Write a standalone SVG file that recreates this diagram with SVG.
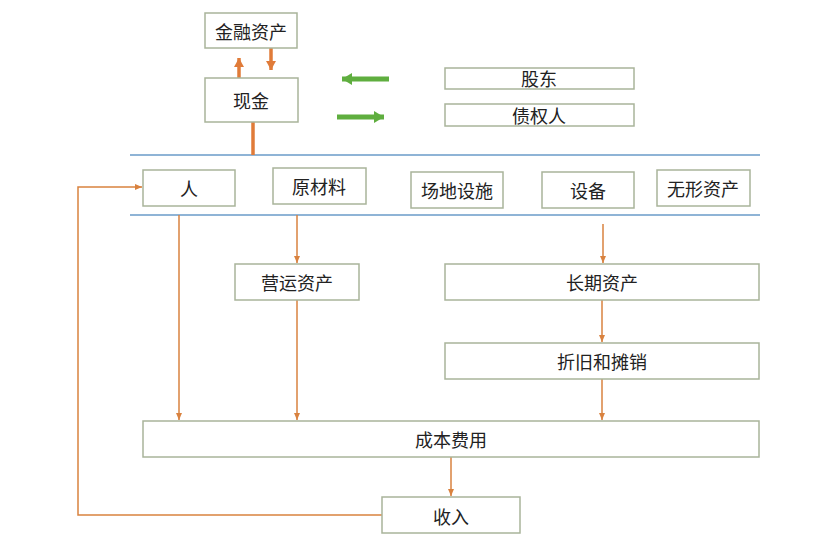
<svg xmlns="http://www.w3.org/2000/svg" width="830" height="554" viewBox="0 0 830 554">
<style>
.box{fill:#fff;stroke:#a9b49a;stroke-width:1.5}
.t{font-family:"Noto Sans CJK SC","Liberation Sans",sans-serif;font-size:18px;fill:#222;text-anchor:middle;dominant-baseline:central}
.c{fill:none;stroke:#d9823f;stroke-width:1.5}
.thick{fill:none;stroke:#e07b39;stroke-width:3.5}
.g{fill:none;stroke:#5fae3f;stroke-width:5}
.blue{stroke:#6a9bc8;stroke-width:1.5}
</style>
<defs>
<marker id="a" markerWidth="8" markerHeight="8" refX="7" refY="4" orient="auto" markerUnits="userSpaceOnUse"><path d="M0,1 L7,4 L0,7 Z" fill="#d9823f"/></marker>
<marker id="at" markerWidth="12" markerHeight="12" refX="9" refY="6" orient="auto" markerUnits="userSpaceOnUse"><path d="M0,1 L9,6 L0,11 Z" fill="#e07b39"/></marker>
<marker id="ag" markerWidth="14" markerHeight="14" refX="10" refY="7" orient="auto" markerUnits="userSpaceOnUse"><path d="M0,1 L10,7 L0,13 Z" fill="#5fae3f"/></marker>
</defs>
<rect width="830" height="554" fill="#fff"/>
<g id="lines">
<line class="blue" x1="130" y1="155" x2="760" y2="155"/>
<line class="blue" x1="130" y1="215" x2="760" y2="215"/>
</g>
<g id="connectors">
<line class="thick" x1="239" y1="78" x2="239" y2="58" marker-end="url(#at)"/>
<line class="thick" x1="271" y1="48" x2="271" y2="70" marker-end="url(#at)"/>
<line class="thick" x1="253" y1="122" x2="253" y2="155"/>
<line class="g" x1="389" y1="79" x2="342" y2="79" marker-end="url(#ag)"/>
<line class="g" x1="337" y1="117" x2="384" y2="117" marker-end="url(#ag)"/>
<polyline class="c" points="382,515 78,515 78,187 142,187" marker-end="url(#a)"/>
<line class="c" x1="179" y1="215" x2="179" y2="420" marker-end="url(#a)"/>
<line class="c" x1="297" y1="215" x2="297" y2="263" marker-end="url(#a)"/>
<line class="c" x1="297" y1="300" x2="297" y2="420" marker-end="url(#a)"/>
<line class="c" x1="603" y1="224" x2="603" y2="263" marker-end="url(#a)"/>
<line class="c" x1="602" y1="300" x2="602" y2="342" marker-end="url(#a)"/>
<line class="c" x1="602" y1="379" x2="602" y2="420" marker-end="url(#a)"/>
<line class="c" x1="451" y1="457" x2="451" y2="496" marker-end="url(#a)"/>
</g>
<g id="n-finance"><rect class="box" x="205" y="13" width="92" height="35"/><text class="t" x="251" y="31">金融资产</text></g>
<g id="n-cash"><rect class="box" x="205" y="78" width="93" height="44"/><text class="t" x="251" y="100">现金</text></g>
<g id="n-shareholder"><rect class="box" x="445" y="68" width="189" height="21"/><text class="t" x="539" y="78">股东</text></g>
<g id="n-creditor"><rect class="box" x="445" y="104" width="189" height="22"/><text class="t" x="539" y="115">债权人</text></g>
<g id="n-people"><rect class="box" x="143" y="170" width="92" height="36"/><text class="t" x="189" y="188">人</text></g>
<g id="n-material"><rect class="box" x="273" y="168" width="93" height="36"/><text class="t" x="319" y="186">原材料</text></g>
<g id="n-site"><rect class="box" x="411" y="172" width="92" height="36"/><text class="t" x="457" y="190">场地设施</text></g>
<g id="n-equip"><rect class="box" x="542" y="172" width="92" height="36"/><text class="t" x="588" y="190">设备</text></g>
<g id="n-intangible"><rect class="box" x="657" y="170" width="93" height="36"/><text class="t" x="703" y="188">无形资产</text></g>
<g id="n-operating"><rect class="box" x="235" y="264" width="124" height="36"/><text class="t" x="297" y="282">营运资产</text></g>
<g id="n-longterm"><rect class="box" x="445" y="264" width="314" height="36"/><text class="t" x="602" y="282">长期资产</text></g>
<g id="n-depr"><rect class="box" x="445" y="343" width="314" height="36"/><text class="t" x="602" y="361">折旧和摊销</text></g>
<g id="n-cost"><rect class="box" x="143" y="421" width="616" height="36"/><text class="t" x="451" y="439">成本费用</text></g>
<g id="n-revenue"><rect class="box" x="382" y="497" width="138" height="36"/><text class="t" x="451" y="516">收入</text></g>
</svg>
